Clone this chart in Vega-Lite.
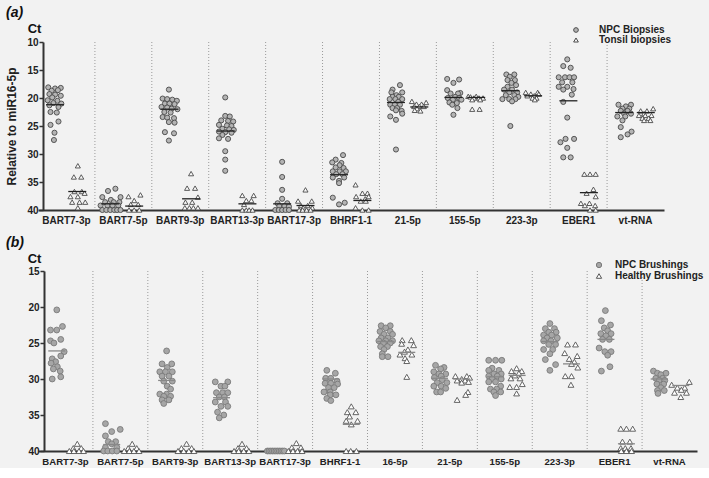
{
"$schema": "https://vega.github.io/schema/vega-lite/v6.json",
"background": "#f2f2f2",
"padding": {"left": 5, "top": 6, "right": 5, "bottom": 2},
"config": {
  "view": {"stroke": null},
  "font": "Liberation Sans",
  "concat": {"spacing": 11},
  "axis": {"labelFont": "Liberation Sans", "labelFontWeight": "bold", "labelFontSize": 10, "labelColor": "#222", "domainColor": "#333", "domainWidth": 2, "tickColor": "#333", "tickSize": 4, "tickWidth": 1.5, "grid": false, "titleFont": "Liberation Sans", "titleFontWeight": "bold", "titleFontSize": 12, "titleColor": "#222"},
  "title": {"font": "Liberation Sans", "fontSize": 14, "fontWeight": "bold", "fontStyle": "italic", "color": "#111", "anchor": "start", "frame": "group", "subtitleFont": "Liberation Sans", "subtitleFontSize": 13, "subtitleFontWeight": "bold", "subtitleFontStyle": "normal", "subtitleColor": "#111", "subtitlePadding": 0, "dx": -32},
  "legend": {"labelFont": "Liberation Sans", "labelFontSize": 10, "labelFontWeight": "bold", "labelColor": "#222", "rowPadding": 0, "symbolStrokeWidth": 1}
},
"datasets": {
"sepA": [{"c":"BART7-5p"},{"c":"BART9-3p"},{"c":"BART13-3p"},{"c":"BART17-3p"},{"c":"BHRF1-1"},{"c":"21-5p"},{"c":"155-5p"},{"c":"223-3p"},{"c":"EBER1"},{"c":"vt-RNA"}],
"sepB": [{"c":"BART7-5p"},{"c":"BART9-3p"},{"c":"BART13-3p"},{"c":"BART17-3p"},{"c":"BHRF1-1"},{"c":"16-5p"},{"c":"21-5p"},{"c":"155-5p"},{"c":"223-3p"},{"c":"EBER1"},{"c":"vt-RNA"}],
"ma": [
{"c":"BART7-3p","g":"N","v":21.2,"p":0.30},{"c":"BART7-3p","g":"T","v":36.7,"p":0.69},
{"c":"BART7-5p","g":"N","v":38.9,"p":0.27},{"c":"BART7-5p","g":"T","v":39.3,"p":0.69},
{"c":"BART9-3p","g":"N","v":22.0,"p":0.31},{"c":"BART9-3p","g":"T","v":38.0,"p":0.69},
{"c":"BART13-3p","g":"N","v":25.9,"p":0.30},{"c":"BART13-3p","g":"T","v":38.9,"p":0.68},
{"c":"BART17-3p","g":"N","v":38.9,"p":0.29},{"c":"BART17-3p","g":"T","v":39.2,"p":0.70},
{"c":"BHRF1-1","g":"N","v":33.7,"p":0.29},{"c":"BHRF1-1","g":"T","v":38.3,"p":0.70},
{"c":"21-5p","g":"N","v":20.8,"p":0.29},{"c":"21-5p","g":"T","v":21.6,"p":0.70},
{"c":"155-5p","g":"N","v":19.9,"p":0.30},{"c":"155-5p","g":"T","v":19.9,"p":0.70},
{"c":"223-3p","g":"N","v":18.7,"p":0.30},{"c":"223-3p","g":"T","v":19.6,"p":0.70},
{"c":"EBER1","g":"N","v":20.5,"p":0.32},{"c":"EBER1","g":"T","v":36.9,"p":0.68},
{"c":"vt-RNA","g":"N","v":22.6,"p":0.30},{"c":"vt-RNA","g":"T","v":22.6,"p":0.68}
],
"mb": [
{"c":"BART7-3p","g":"N","v":26.1,"p":0.33},
{"c":"BART7-5p","g":"N","v":39.1,"p":0.33},
{"c":"BART9-3p","g":"N","v":30.2,"p":0.33},
{"c":"BART13-3p","g":"N","v":32.6,"p":0.33},
{"c":"BHRF1-1","g":"N","v":30.0,"p":0.32},{"c":"BHRF1-1","g":"T","v":36.3,"p":0.68},
{"c":"16-5p","g":"N","v":24.8,"p":0.32},{"c":"16-5p","g":"T","v":26.3,"p":0.69},
{"c":"21-5p","g":"N","v":29.9,"p":0.30},{"c":"21-5p","g":"T","v":30.0,"p":0.69},
{"c":"155-5p","g":"N","v":29.7,"p":0.32},{"c":"155-5p","g":"T","v":29.5,"p":0.70},
{"c":"223-3p","g":"N","v":24.8,"p":0.31},{"c":"223-3p","g":"T","v":27.9,"p":0.69},
{"c":"EBER1","g":"N","v":24.5,"p":0.33},{"c":"EBER1","g":"T","v":39.0,"p":0.69},
{"c":"vt-RNA","g":"N","v":30.0,"p":0.30},{"c":"vt-RNA","g":"T","v":30.9,"p":0.68}
],
"a": [
{"c":"BART7-3p","g":"N","v":18.1,"p":0.18},{"c":"BART7-3p","g":"N","v":18.3,"p":0.30},{"c":"BART7-3p","g":"N","v":18.2,"p":0.40},{"c":"BART7-3p","g":"N","v":18.7,"p":0.24},{"c":"BART7-3p","g":"N","v":18.6,"p":0.35},{"c":"BART7-3p","g":"N","v":19.3,"p":0.20},{"c":"BART7-3p","g":"N","v":19.4,"p":0.30},{"c":"BART7-3p","g":"N","v":19.6,"p":0.40},{"c":"BART7-3p","g":"N","v":19.9,"p":0.25},{"c":"BART7-3p","g":"N","v":20.4,"p":0.17},{"c":"BART7-3p","g":"N","v":20.5,"p":0.34},{"c":"BART7-3p","g":"N","v":20.9,"p":0.27},{"c":"BART7-3p","g":"N","v":21.0,"p":0.41},{"c":"BART7-3p","g":"N","v":21.3,"p":0.20},{"c":"BART7-3p","g":"N","v":21.6,"p":0.36},{"c":"BART7-3p","g":"N","v":22.5,"p":0.22},{"c":"BART7-3p","g":"N","v":22.6,"p":0.33},{"c":"BART7-3p","g":"N","v":24.2,"p":0.36},{"c":"BART7-3p","g":"N","v":24.8,"p":0.22},{"c":"BART7-3p","g":"N","v":26.2,"p":0.29},{"c":"BART7-3p","g":"N","v":27.5,"p":0.28},
{"c":"BART7-3p","g":"T","v":32.1,"p":0.70},{"c":"BART7-3p","g":"T","v":34.1,"p":0.63},{"c":"BART7-3p","g":"T","v":34.1,"p":0.76},{"c":"BART7-3p","g":"T","v":36.7,"p":0.64},{"c":"BART7-3p","g":"T","v":36.7,"p":0.77},{"c":"BART7-3p","g":"T","v":37.0,"p":0.82},{"c":"BART7-3p","g":"T","v":37.6,"p":0.57},{"c":"BART7-3p","g":"T","v":37.6,"p":0.70},{"c":"BART7-3p","g":"T","v":38.6,"p":0.60},{"c":"BART7-3p","g":"T","v":38.6,"p":0.73},{"c":"BART7-3p","g":"T","v":38.6,"p":0.83},{"c":"BART7-3p","g":"T","v":39.6,"p":0.70},
{"c":"BART7-5p","g":"N","v":36.2,"p":0.36},{"c":"BART7-5p","g":"N","v":36.6,"p":0.23},{"c":"BART7-5p","g":"N","v":37.7,"p":0.13},{"c":"BART7-5p","g":"N","v":37.7,"p":0.45},{"c":"BART7-5p","g":"N","v":38.2,"p":0.28},{"c":"BART7-5p","g":"N","v":38.6,"p":0.18},{"c":"BART7-5p","g":"N","v":38.6,"p":0.33},{"c":"BART7-5p","g":"N","v":38.6,"p":0.43},{"c":"BART7-5p","g":"N","v":39.2,"p":0.10},{"c":"BART7-5p","g":"N","v":39.2,"p":0.22},{"c":"BART7-5p","g":"N","v":39.2,"p":0.31},{"c":"BART7-5p","g":"N","v":39.2,"p":0.41},{"c":"BART7-5p","g":"N","v":40,"p":0.13},{"c":"BART7-5p","g":"N","v":40,"p":0.20},{"c":"BART7-5p","g":"N","v":40,"p":0.27},{"c":"BART7-5p","g":"N","v":40,"p":0.34},{"c":"BART7-5p","g":"N","v":40,"p":0.39},{"c":"BART7-5p","g":"N","v":40,"p":0.45},
{"c":"BART7-5p","g":"T","v":37.3,"p":0.80},{"c":"BART7-5p","g":"T","v":37.6,"p":0.59},{"c":"BART7-5p","g":"T","v":38.3,"p":0.69},{"c":"BART7-5p","g":"T","v":39.0,"p":0.63},{"c":"BART7-5p","g":"T","v":39.0,"p":0.76},{"c":"BART7-5p","g":"T","v":40,"p":0.60},{"c":"BART7-5p","g":"T","v":40,"p":0.69},{"c":"BART7-5p","g":"T","v":40,"p":0.78},
{"c":"BART9-3p","g":"N","v":18.5,"p":0.30},{"c":"BART9-3p","g":"N","v":20.1,"p":0.19},{"c":"BART9-3p","g":"N","v":20.2,"p":0.27},{"c":"BART9-3p","g":"N","v":20.3,"p":0.36},{"c":"BART9-3p","g":"N","v":20.5,"p":0.44},{"c":"BART9-3p","g":"N","v":21.0,"p":0.23},{"c":"BART9-3p","g":"N","v":21.0,"p":0.31},{"c":"BART9-3p","g":"N","v":21.1,"p":0.40},{"c":"BART9-3p","g":"N","v":21.6,"p":0.17},{"c":"BART9-3p","g":"N","v":21.7,"p":0.27},{"c":"BART9-3p","g":"N","v":21.9,"p":0.35},{"c":"BART9-3p","g":"N","v":22.0,"p":0.45},{"c":"BART9-3p","g":"N","v":22.5,"p":0.22},{"c":"BART9-3p","g":"N","v":22.6,"p":0.33},{"c":"BART9-3p","g":"N","v":23.4,"p":0.19},{"c":"BART9-3p","g":"N","v":23.5,"p":0.27},{"c":"BART9-3p","g":"N","v":23.6,"p":0.39},{"c":"BART9-3p","g":"N","v":24.3,"p":0.30},{"c":"BART9-3p","g":"N","v":24.4,"p":0.40},{"c":"BART9-3p","g":"N","v":26.1,"p":0.23},{"c":"BART9-3p","g":"N","v":26.3,"p":0.39},{"c":"BART9-3p","g":"N","v":27.6,"p":0.30},
{"c":"BART9-3p","g":"T","v":33.5,"p":0.69},{"c":"BART9-3p","g":"T","v":36.1,"p":0.62},{"c":"BART9-3p","g":"T","v":36.1,"p":0.76},{"c":"BART9-3p","g":"T","v":37.7,"p":0.81},{"c":"BART9-3p","g":"T","v":38.6,"p":0.59},{"c":"BART9-3p","g":"T","v":38.6,"p":0.71},{"c":"BART9-3p","g":"T","v":39.6,"p":0.58},{"c":"BART9-3p","g":"T","v":39.6,"p":0.66},{"c":"BART9-3p","g":"T","v":39.6,"p":0.73},{"c":"BART9-3p","g":"T","v":39.6,"p":0.81},
{"c":"BART13-3p","g":"N","v":19.9,"p":0.29},{"c":"BART13-3p","g":"N","v":23.2,"p":0.29},{"c":"BART13-3p","g":"N","v":23.3,"p":0.37},{"c":"BART13-3p","g":"N","v":24.0,"p":0.22},{"c":"BART13-3p","g":"N","v":24.1,"p":0.34},{"c":"BART13-3p","g":"N","v":24.2,"p":0.43},{"c":"BART13-3p","g":"N","v":24.8,"p":0.18},{"c":"BART13-3p","g":"N","v":24.9,"p":0.32},{"c":"BART13-3p","g":"N","v":25.0,"p":0.40},{"c":"BART13-3p","g":"N","v":25.5,"p":0.24},{"c":"BART13-3p","g":"N","v":25.6,"p":0.36},{"c":"BART13-3p","g":"N","v":25.7,"p":0.44},{"c":"BART13-3p","g":"N","v":26.0,"p":0.18},{"c":"BART13-3p","g":"N","v":26.1,"p":0.29},{"c":"BART13-3p","g":"N","v":26.2,"p":0.40},{"c":"BART13-3p","g":"N","v":26.6,"p":0.24},{"c":"BART13-3p","g":"N","v":27.2,"p":0.18},{"c":"BART13-3p","g":"N","v":27.3,"p":0.34},{"c":"BART13-3p","g":"N","v":29.5,"p":0.29},{"c":"BART13-3p","g":"N","v":31.0,"p":0.29},{"c":"BART13-3p","g":"N","v":33.0,"p":0.29},
{"c":"BART13-3p","g":"T","v":37.4,"p":0.59},{"c":"BART13-3p","g":"T","v":37.4,"p":0.79},{"c":"BART13-3p","g":"T","v":38.3,"p":0.66},{"c":"BART13-3p","g":"T","v":38.3,"p":0.75},{"c":"BART13-3p","g":"T","v":39.0,"p":0.62},{"c":"BART13-3p","g":"T","v":40,"p":0.59},{"c":"BART13-3p","g":"T","v":40,"p":0.66},{"c":"BART13-3p","g":"T","v":40,"p":0.71},{"c":"BART13-3p","g":"T","v":40,"p":0.77},
{"c":"BART17-3p","g":"N","v":31.4,"p":0.29},{"c":"BART17-3p","g":"N","v":34.1,"p":0.29},{"c":"BART17-3p","g":"N","v":36.4,"p":0.29},{"c":"BART17-3p","g":"N","v":38.0,"p":0.29},{"c":"BART17-3p","g":"N","v":38.8,"p":0.21},{"c":"BART17-3p","g":"N","v":38.8,"p":0.38},{"c":"BART17-3p","g":"N","v":39.3,"p":0.24},{"c":"BART17-3p","g":"N","v":39.3,"p":0.33},{"c":"BART17-3p","g":"N","v":39.4,"p":0.41},{"c":"BART17-3p","g":"N","v":40,"p":0.17},{"c":"BART17-3p","g":"N","v":40,"p":0.23},{"c":"BART17-3p","g":"N","v":40,"p":0.29},{"c":"BART17-3p","g":"N","v":40,"p":0.35},{"c":"BART17-3p","g":"N","v":40,"p":0.41},
{"c":"BART17-3p","g":"T","v":36.4,"p":0.70},{"c":"BART17-3p","g":"T","v":38.4,"p":0.57},{"c":"BART17-3p","g":"T","v":38.4,"p":0.81},{"c":"BART17-3p","g":"T","v":39.2,"p":0.62},{"c":"BART17-3p","g":"T","v":39.2,"p":0.74},{"c":"BART17-3p","g":"T","v":39.6,"p":0.66},{"c":"BART17-3p","g":"T","v":39.6,"p":0.82},{"c":"BART17-3p","g":"T","v":40,"p":0.59},{"c":"BART17-3p","g":"T","v":40,"p":0.65},{"c":"BART17-3p","g":"T","v":40,"p":0.72},{"c":"BART17-3p","g":"T","v":40,"p":0.79},
{"c":"BHRF1-1","g":"N","v":30.2,"p":0.36},{"c":"BHRF1-1","g":"N","v":31.0,"p":0.23},{"c":"BHRF1-1","g":"N","v":31.5,"p":0.17},{"c":"BHRF1-1","g":"N","v":31.6,"p":0.33},{"c":"BHRF1-1","g":"N","v":32.0,"p":0.30},{"c":"BHRF1-1","g":"N","v":32.4,"p":0.23},{"c":"BHRF1-1","g":"N","v":32.5,"p":0.37},{"c":"BHRF1-1","g":"N","v":33.1,"p":0.18},{"c":"BHRF1-1","g":"N","v":33.1,"p":0.30},{"c":"BHRF1-1","g":"N","v":33.1,"p":0.41},{"c":"BHRF1-1","g":"N","v":33.6,"p":0.24},{"c":"BHRF1-1","g":"N","v":33.6,"p":0.35},{"c":"BHRF1-1","g":"N","v":34.2,"p":0.18},{"c":"BHRF1-1","g":"N","v":34.2,"p":0.38},{"c":"BHRF1-1","g":"N","v":34.8,"p":0.29},{"c":"BHRF1-1","g":"N","v":35.2,"p":0.29},{"c":"BHRF1-1","g":"N","v":37.8,"p":0.18},{"c":"BHRF1-1","g":"N","v":38.7,"p":0.39},{"c":"BHRF1-1","g":"N","v":39.0,"p":0.29},
{"c":"BHRF1-1","g":"T","v":35.5,"p":0.58},{"c":"BHRF1-1","g":"T","v":37.0,"p":0.70},{"c":"BHRF1-1","g":"T","v":37.0,"p":0.79},{"c":"BHRF1-1","g":"T","v":37.6,"p":0.59},{"c":"BHRF1-1","g":"T","v":37.6,"p":0.81},{"c":"BHRF1-1","g":"T","v":38.0,"p":0.75},{"c":"BHRF1-1","g":"T","v":38.4,"p":0.67},{"c":"BHRF1-1","g":"T","v":38.4,"p":0.76},{"c":"BHRF1-1","g":"T","v":39.6,"p":0.58},{"c":"BHRF1-1","g":"T","v":40,"p":0.70},{"c":"BHRF1-1","g":"T","v":40,"p":0.81},
{"c":"21-5p","g":"N","v":17.7,"p":0.36},{"c":"21-5p","g":"N","v":18.5,"p":0.23},{"c":"21-5p","g":"N","v":19.0,"p":0.21},{"c":"21-5p","g":"N","v":19.0,"p":0.40},{"c":"21-5p","g":"N","v":19.5,"p":0.30},{"c":"21-5p","g":"N","v":19.8,"p":0.23},{"c":"21-5p","g":"N","v":19.8,"p":0.34},{"c":"21-5p","g":"N","v":20.2,"p":0.18},{"c":"21-5p","g":"N","v":20.2,"p":0.28},{"c":"21-5p","g":"N","v":20.2,"p":0.40},{"c":"21-5p","g":"N","v":20.7,"p":0.33},{"c":"21-5p","g":"N","v":21.2,"p":0.19},{"c":"21-5p","g":"N","v":21.2,"p":0.27},{"c":"21-5p","g":"N","v":21.2,"p":0.36},{"c":"21-5p","g":"N","v":21.8,"p":0.23},{"c":"21-5p","g":"N","v":21.8,"p":0.31},{"c":"21-5p","g":"N","v":22.2,"p":0.29},{"c":"21-5p","g":"N","v":22.3,"p":0.39},{"c":"21-5p","g":"N","v":22.8,"p":0.40},{"c":"21-5p","g":"N","v":23.3,"p":0.19},{"c":"21-5p","g":"N","v":23.9,"p":0.29},{"c":"21-5p","g":"N","v":29.2,"p":0.29},
{"c":"21-5p","g":"T","v":20.6,"p":0.57},{"c":"21-5p","g":"T","v":20.8,"p":0.82},{"c":"21-5p","g":"T","v":21.1,"p":0.65},{"c":"21-5p","g":"T","v":21.1,"p":0.74},{"c":"21-5p","g":"T","v":21.5,"p":0.61},{"c":"21-5p","g":"T","v":21.5,"p":0.70},{"c":"21-5p","g":"T","v":21.5,"p":0.78},{"c":"21-5p","g":"T","v":21.9,"p":0.66},{"c":"21-5p","g":"T","v":22.3,"p":0.72},{"c":"21-5p","g":"T","v":22.2,"p":0.62},
{"c":"155-5p","g":"N","v":16.6,"p":0.19},{"c":"155-5p","g":"N","v":16.7,"p":0.40},{"c":"155-5p","g":"N","v":17.3,"p":0.30},{"c":"155-5p","g":"N","v":18.6,"p":0.19},{"c":"155-5p","g":"N","v":19.1,"p":0.42},{"c":"155-5p","g":"N","v":19.2,"p":0.25},{"c":"155-5p","g":"N","v":19.2,"p":0.38},{"c":"155-5p","g":"N","v":19.8,"p":0.33},{"c":"155-5p","g":"N","v":20.0,"p":0.20},{"c":"155-5p","g":"N","v":20.0,"p":0.40},{"c":"155-5p","g":"N","v":20.3,"p":0.29},{"c":"155-5p","g":"N","v":20.3,"p":0.44},{"c":"155-5p","g":"N","v":20.8,"p":0.23},{"c":"155-5p","g":"N","v":20.9,"p":0.36},{"c":"155-5p","g":"N","v":21.2,"p":0.28},{"c":"155-5p","g":"N","v":21.8,"p":0.37},{"c":"155-5p","g":"N","v":23.0,"p":0.30},
{"c":"155-5p","g":"T","v":19.7,"p":0.56},{"c":"155-5p","g":"T","v":19.7,"p":0.70},{"c":"155-5p","g":"T","v":19.8,"p":0.60},{"c":"155-5p","g":"T","v":20.0,"p":0.66},{"c":"155-5p","g":"T","v":20.0,"p":0.75},{"c":"155-5p","g":"T","v":20.0,"p":0.82},{"c":"155-5p","g":"T","v":20.3,"p":0.63},{"c":"155-5p","g":"T","v":20.3,"p":0.77},{"c":"155-5p","g":"T","v":22.0,"p":0.63},{"c":"155-5p","g":"T","v":22.0,"p":0.76},
{"c":"223-3p","g":"N","v":15.8,"p":0.23},{"c":"223-3p","g":"N","v":15.8,"p":0.37},{"c":"223-3p","g":"N","v":16.2,"p":0.29},{"c":"223-3p","g":"N","v":16.8,"p":0.25},{"c":"223-3p","g":"N","v":16.8,"p":0.38},{"c":"223-3p","g":"N","v":17.3,"p":0.32},{"c":"223-3p","g":"N","v":17.7,"p":0.40},{"c":"223-3p","g":"N","v":18.0,"p":0.25},{"c":"223-3p","g":"N","v":18.5,"p":0.19},{"c":"223-3p","g":"N","v":18.5,"p":0.33},{"c":"223-3p","g":"N","v":19.0,"p":0.28},{"c":"223-3p","g":"N","v":19.0,"p":0.42},{"c":"223-3p","g":"N","v":19.5,"p":0.22},{"c":"223-3p","g":"N","v":19.5,"p":0.37},{"c":"223-3p","g":"N","v":19.8,"p":0.44},{"c":"223-3p","g":"N","v":20.2,"p":0.16},{"c":"223-3p","g":"N","v":20.2,"p":0.28},{"c":"223-3p","g":"N","v":20.2,"p":0.39},{"c":"223-3p","g":"N","v":20.6,"p":0.33},{"c":"223-3p","g":"N","v":25.0,"p":0.30},
{"c":"223-3p","g":"T","v":19.0,"p":0.57},{"c":"223-3p","g":"T","v":19.0,"p":0.78},{"c":"223-3p","g":"T","v":19.3,"p":0.66},{"c":"223-3p","g":"T","v":19.3,"p":0.80},{"c":"223-3p","g":"T","v":19.6,"p":0.60},{"c":"223-3p","g":"T","v":19.6,"p":0.72},{"c":"223-3p","g":"T","v":20.0,"p":0.69},{"c":"223-3p","g":"T","v":20.0,"p":0.76},{"c":"223-3p","g":"T","v":20.3,"p":0.73},
{"c":"EBER1","g":"N","v":13.1,"p":0.30},{"c":"EBER1","g":"N","v":14.3,"p":0.23},{"c":"EBER1","g":"N","v":14.6,"p":0.36},{"c":"EBER1","g":"N","v":16.3,"p":0.15},{"c":"EBER1","g":"N","v":16.3,"p":0.26},{"c":"EBER1","g":"N","v":16.3,"p":0.34},{"c":"EBER1","g":"N","v":16.3,"p":0.42},{"c":"EBER1","g":"N","v":17.2,"p":0.21},{"c":"EBER1","g":"N","v":17.2,"p":0.39},{"c":"EBER1","g":"N","v":18.0,"p":0.15},{"c":"EBER1","g":"N","v":18.0,"p":0.30},{"c":"EBER1","g":"N","v":18.5,"p":0.23},{"c":"EBER1","g":"N","v":18.4,"p":0.41},{"c":"EBER1","g":"N","v":19.4,"p":0.38},{"c":"EBER1","g":"N","v":20.7,"p":0.23},{"c":"EBER1","g":"N","v":23.5,"p":0.30},{"c":"EBER1","g":"N","v":27.3,"p":0.27},{"c":"EBER1","g":"N","v":27.3,"p":0.42},{"c":"EBER1","g":"N","v":27.9,"p":0.18},{"c":"EBER1","g":"N","v":28.9,"p":0.30},{"c":"EBER1","g":"N","v":30.6,"p":0.23},{"c":"EBER1","g":"N","v":30.6,"p":0.36},
{"c":"EBER1","g":"T","v":33.6,"p":0.60},{"c":"EBER1","g":"T","v":33.6,"p":0.70},{"c":"EBER1","g":"T","v":33.6,"p":0.80},{"c":"EBER1","g":"T","v":36.3,"p":0.76},{"c":"EBER1","g":"T","v":37.0,"p":0.64},{"c":"EBER1","g":"T","v":37.6,"p":0.80},{"c":"EBER1","g":"T","v":38.8,"p":0.54},{"c":"EBER1","g":"T","v":38.8,"p":0.69},{"c":"EBER1","g":"T","v":39.2,"p":0.61},{"c":"EBER1","g":"T","v":39.2,"p":0.79},{"c":"EBER1","g":"T","v":40,"p":0.70},{"c":"EBER1","g":"T","v":40,"p":0.80},
{"c":"vt-RNA","g":"N","v":21.2,"p":0.20},{"c":"vt-RNA","g":"N","v":21.2,"p":0.42},{"c":"vt-RNA","g":"N","v":21.5,"p":0.33},{"c":"vt-RNA","g":"N","v":21.9,"p":0.27},{"c":"vt-RNA","g":"N","v":21.9,"p":0.39},{"c":"vt-RNA","g":"N","v":22.3,"p":0.24},{"c":"vt-RNA","g":"N","v":22.3,"p":0.36},{"c":"vt-RNA","g":"N","v":22.8,"p":0.30},{"c":"vt-RNA","g":"N","v":22.8,"p":0.42},{"c":"vt-RNA","g":"N","v":23.3,"p":0.18},{"c":"vt-RNA","g":"N","v":23.3,"p":0.32},{"c":"vt-RNA","g":"N","v":24.0,"p":0.27},{"c":"vt-RNA","g":"N","v":25.2,"p":0.24},{"c":"vt-RNA","g":"N","v":26.0,"p":0.43},{"c":"vt-RNA","g":"N","v":26.5,"p":0.36},{"c":"vt-RNA","g":"N","v":27.0,"p":0.24},
{"c":"vt-RNA","g":"T","v":21.9,"p":0.81},{"c":"vt-RNA","g":"T","v":22.3,"p":0.59},{"c":"vt-RNA","g":"T","v":22.3,"p":0.70},{"c":"vt-RNA","g":"T","v":22.8,"p":0.65},{"c":"vt-RNA","g":"T","v":23.1,"p":0.56},{"c":"vt-RNA","g":"T","v":23.1,"p":0.67},{"c":"vt-RNA","g":"T","v":23.1,"p":0.78},{"c":"vt-RNA","g":"T","v":23.6,"p":0.62},{"c":"vt-RNA","g":"T","v":23.6,"p":0.73},{"c":"vt-RNA","g":"T","v":24.0,"p":0.65},{"c":"vt-RNA","g":"T","v":24.0,"p":0.76}
],
"b": [
{"c":"BART7-3p","g":"N","v":20.4,"p":0.33},{"c":"BART7-3p","g":"N","v":22.7,"p":0.43},{"c":"BART7-3p","g":"N","v":23.2,"p":0.22},{"c":"BART7-3p","g":"N","v":23.2,"p":0.33},{"c":"BART7-3p","g":"N","v":24.5,"p":0.40},{"c":"BART7-3p","g":"N","v":24.7,"p":0.22},{"c":"BART7-3p","g":"N","v":25.0,"p":0.28},{"c":"BART7-3p","g":"N","v":26.2,"p":0.46},{"c":"BART7-3p","g":"N","v":26.8,"p":0.40},{"c":"BART7-3p","g":"N","v":27.2,"p":0.25},{"c":"BART7-3p","g":"N","v":27.6,"p":0.31},{"c":"BART7-3p","g":"N","v":27.8,"p":0.23},{"c":"BART7-3p","g":"N","v":28.3,"p":0.34},{"c":"BART7-3p","g":"N","v":28.6,"p":0.27},{"c":"BART7-3p","g":"N","v":28.9,"p":0.39},{"c":"BART7-3p","g":"N","v":29.7,"p":0.40},{"c":"BART7-3p","g":"N","v":30.0,"p":0.25},
{"c":"BART7-3p","g":"T","v":39.0,"p":0.69},{"c":"BART7-3p","g":"T","v":39.6,"p":0.62},{"c":"BART7-3p","g":"T","v":39.6,"p":0.76},{"c":"BART7-3p","g":"T","v":40,"p":0.55},{"c":"BART7-3p","g":"T","v":40,"p":0.63},{"c":"BART7-3p","g":"T","v":40,"p":0.72},{"c":"BART7-3p","g":"T","v":40,"p":0.80},
{"c":"BART7-5p","g":"N","v":36.2,"p":0.22},{"c":"BART7-5p","g":"N","v":37.0,"p":0.48},{"c":"BART7-5p","g":"N","v":37.3,"p":0.33},{"c":"BART7-5p","g":"N","v":37.9,"p":0.22},{"c":"BART7-5p","g":"N","v":38.7,"p":0.27},{"c":"BART7-5p","g":"N","v":38.7,"p":0.40},{"c":"BART7-5p","g":"N","v":39.0,"p":0.33},{"c":"BART7-5p","g":"N","v":39.5,"p":0.22},{"c":"BART7-5p","g":"N","v":39.5,"p":0.42},{"c":"BART7-5p","g":"N","v":40,"p":0.19},{"c":"BART7-5p","g":"N","v":40,"p":0.26},{"c":"BART7-5p","g":"N","v":40,"p":0.34},{"c":"BART7-5p","g":"N","v":40,"p":0.42},
{"c":"BART7-5p","g":"T","v":39.0,"p":0.69},{"c":"BART7-5p","g":"T","v":39.6,"p":0.62},{"c":"BART7-5p","g":"T","v":39.6,"p":0.77},{"c":"BART7-5p","g":"T","v":40,"p":0.55},{"c":"BART7-5p","g":"T","v":40,"p":0.64},{"c":"BART7-5p","g":"T","v":40,"p":0.72},{"c":"BART7-5p","g":"T","v":40,"p":0.81},
{"c":"BART9-3p","g":"N","v":26.1,"p":0.33},{"c":"BART9-3p","g":"N","v":27.9,"p":0.25},{"c":"BART9-3p","g":"N","v":27.9,"p":0.42},{"c":"BART9-3p","g":"N","v":28.4,"p":0.34},{"c":"BART9-3p","g":"N","v":29.0,"p":0.21},{"c":"BART9-3p","g":"N","v":29.0,"p":0.31},{"c":"BART9-3p","g":"N","v":29.0,"p":0.43},{"c":"BART9-3p","g":"N","v":29.6,"p":0.25},{"c":"BART9-3p","g":"N","v":29.6,"p":0.37},{"c":"BART9-3p","g":"N","v":30.3,"p":0.28},{"c":"BART9-3p","g":"N","v":30.3,"p":0.43},{"c":"BART9-3p","g":"N","v":31.0,"p":0.34},{"c":"BART9-3p","g":"N","v":31.4,"p":0.40},{"c":"BART9-3p","g":"N","v":32.1,"p":0.21},{"c":"BART9-3p","g":"N","v":32.1,"p":0.33},{"c":"BART9-3p","g":"N","v":32.4,"p":0.28},{"c":"BART9-3p","g":"N","v":32.4,"p":0.40},{"c":"BART9-3p","g":"N","v":32.9,"p":0.25},{"c":"BART9-3p","g":"N","v":32.9,"p":0.37},{"c":"BART9-3p","g":"N","v":33.4,"p":0.28},
{"c":"BART9-3p","g":"T","v":39.0,"p":0.68},{"c":"BART9-3p","g":"T","v":39.6,"p":0.59},{"c":"BART9-3p","g":"T","v":39.6,"p":0.77},{"c":"BART9-3p","g":"T","v":40,"p":0.53},{"c":"BART9-3p","g":"T","v":40,"p":0.63},{"c":"BART9-3p","g":"T","v":40,"p":0.72},{"c":"BART9-3p","g":"T","v":40,"p":0.81},
{"c":"BART13-3p","g":"N","v":30.4,"p":0.22},{"c":"BART13-3p","g":"N","v":30.4,"p":0.44},{"c":"BART13-3p","g":"N","v":31.0,"p":0.32},{"c":"BART13-3p","g":"N","v":31.0,"p":0.39},{"c":"BART13-3p","g":"N","v":31.9,"p":0.24},{"c":"BART13-3p","g":"N","v":31.9,"p":0.35},{"c":"BART13-3p","g":"N","v":31.9,"p":0.44},{"c":"BART13-3p","g":"N","v":32.5,"p":0.29},{"c":"BART13-3p","g":"N","v":32.5,"p":0.38},{"c":"BART13-3p","g":"N","v":33.2,"p":0.22},{"c":"BART13-3p","g":"N","v":33.2,"p":0.40},{"c":"BART13-3p","g":"N","v":33.8,"p":0.32},{"c":"BART13-3p","g":"N","v":33.8,"p":0.44},{"c":"BART13-3p","g":"N","v":34.6,"p":0.26},{"c":"BART13-3p","g":"N","v":35.0,"p":0.37},{"c":"BART13-3p","g":"N","v":35.4,"p":0.29},
{"c":"BART13-3p","g":"T","v":39.0,"p":0.69},{"c":"BART13-3p","g":"T","v":39.6,"p":0.62},{"c":"BART13-3p","g":"T","v":39.6,"p":0.77},{"c":"BART13-3p","g":"T","v":40,"p":0.55},{"c":"BART13-3p","g":"T","v":40,"p":0.63},{"c":"BART13-3p","g":"T","v":40,"p":0.72},{"c":"BART13-3p","g":"T","v":40,"p":0.81},
{"c":"BART17-3p","g":"N","v":40,"p":0.17},{"c":"BART17-3p","g":"N","v":40,"p":0.20},{"c":"BART17-3p","g":"N","v":40,"p":0.23},{"c":"BART17-3p","g":"N","v":40,"p":0.26},{"c":"BART17-3p","g":"N","v":40,"p":0.29},{"c":"BART17-3p","g":"N","v":40,"p":0.32},{"c":"BART17-3p","g":"N","v":40,"p":0.35},{"c":"BART17-3p","g":"N","v":40,"p":0.38},{"c":"BART17-3p","g":"N","v":40,"p":0.41},{"c":"BART17-3p","g":"N","v":40,"p":0.44},{"c":"BART17-3p","g":"N","v":40,"p":0.47},
{"c":"BART17-3p","g":"T","v":38.9,"p":0.68},{"c":"BART17-3p","g":"T","v":39.5,"p":0.60},{"c":"BART17-3p","g":"T","v":39.5,"p":0.76},{"c":"BART17-3p","g":"T","v":40,"p":0.54},{"c":"BART17-3p","g":"T","v":40,"p":0.62},{"c":"BART17-3p","g":"T","v":40,"p":0.70},{"c":"BART17-3p","g":"T","v":40,"p":0.78},
{"c":"BHRF1-1","g":"N","v":28.8,"p":0.25},{"c":"BHRF1-1","g":"N","v":29.2,"p":0.40},{"c":"BHRF1-1","g":"N","v":29.9,"p":0.23},{"c":"BHRF1-1","g":"N","v":29.9,"p":0.32},{"c":"BHRF1-1","g":"N","v":30.3,"p":0.43},{"c":"BHRF1-1","g":"N","v":30.6,"p":0.22},{"c":"BHRF1-1","g":"N","v":30.6,"p":0.32},{"c":"BHRF1-1","g":"N","v":30.7,"p":0.44},{"c":"BHRF1-1","g":"N","v":31.2,"p":0.28},{"c":"BHRF1-1","g":"N","v":31.2,"p":0.38},{"c":"BHRF1-1","g":"N","v":31.8,"p":0.20},{"c":"BHRF1-1","g":"N","v":31.8,"p":0.31},{"c":"BHRF1-1","g":"N","v":32.2,"p":0.31},{"c":"BHRF1-1","g":"N","v":32.2,"p":0.41},{"c":"BHRF1-1","g":"N","v":32.7,"p":0.25},{"c":"BHRF1-1","g":"N","v":33.0,"p":0.32},
{"c":"BHRF1-1","g":"T","v":33.8,"p":0.68},{"c":"BHRF1-1","g":"T","v":34.6,"p":0.61},{"c":"BHRF1-1","g":"T","v":34.6,"p":0.76},{"c":"BHRF1-1","g":"T","v":35.2,"p":0.65},{"c":"BHRF1-1","g":"T","v":35.8,"p":0.59},{"c":"BHRF1-1","g":"T","v":35.8,"p":0.79},{"c":"BHRF1-1","g":"T","v":36.3,"p":0.68},{"c":"BHRF1-1","g":"T","v":40,"p":0.59},{"c":"BHRF1-1","g":"T","v":40,"p":0.67},{"c":"BHRF1-1","g":"T","v":40,"p":0.77},
{"c":"16-5p","g":"N","v":22.6,"p":0.24},{"c":"16-5p","g":"N","v":22.6,"p":0.40},{"c":"16-5p","g":"N","v":22.9,"p":0.32},{"c":"16-5p","g":"N","v":23.4,"p":0.22},{"c":"16-5p","g":"N","v":23.4,"p":0.40},{"c":"16-5p","g":"N","v":23.8,"p":0.29},{"c":"16-5p","g":"N","v":23.8,"p":0.44},{"c":"16-5p","g":"N","v":24.3,"p":0.24},{"c":"16-5p","g":"N","v":24.3,"p":0.36},{"c":"16-5p","g":"N","v":24.7,"p":0.20},{"c":"16-5p","g":"N","v":24.7,"p":0.32},{"c":"16-5p","g":"N","v":24.7,"p":0.44},{"c":"16-5p","g":"N","v":25.0,"p":0.28},{"c":"16-5p","g":"N","v":25.0,"p":0.40},{"c":"16-5p","g":"N","v":25.5,"p":0.23},{"c":"16-5p","g":"N","v":25.5,"p":0.35},{"c":"16-5p","g":"N","v":25.9,"p":0.29},{"c":"16-5p","g":"N","v":26.5,"p":0.26},{"c":"16-5p","g":"N","v":26.9,"p":0.26},{"c":"16-5p","g":"N","v":26.9,"p":0.36},
{"c":"16-5p","g":"T","v":24.6,"p":0.61},{"c":"16-5p","g":"T","v":24.6,"p":0.77},{"c":"16-5p","g":"T","v":25.1,"p":0.60},{"c":"16-5p","g":"T","v":25.3,"p":0.81},{"c":"16-5p","g":"T","v":25.9,"p":0.71},{"c":"16-5p","g":"T","v":26.2,"p":0.65},{"c":"16-5p","g":"T","v":26.6,"p":0.57},{"c":"16-5p","g":"T","v":26.6,"p":0.78},{"c":"16-5p","g":"T","v":27.1,"p":0.66},{"c":"16-5p","g":"T","v":27.5,"p":0.69},{"c":"16-5p","g":"T","v":29.7,"p":0.69},
{"c":"21-5p","g":"N","v":28.1,"p":0.23},{"c":"21-5p","g":"N","v":28.4,"p":0.38},{"c":"21-5p","g":"N","v":28.6,"p":0.32},{"c":"21-5p","g":"N","v":29.0,"p":0.20},{"c":"21-5p","g":"N","v":29.3,"p":0.29},{"c":"21-5p","g":"N","v":29.3,"p":0.41},{"c":"21-5p","g":"N","v":29.6,"p":0.33},{"c":"21-5p","g":"N","v":29.8,"p":0.21},{"c":"21-5p","g":"N","v":30.1,"p":0.35},{"c":"21-5p","g":"N","v":30.5,"p":0.26},{"c":"21-5p","g":"N","v":30.5,"p":0.43},{"c":"21-5p","g":"N","v":31.0,"p":0.20},{"c":"21-5p","g":"N","v":31.0,"p":0.33},{"c":"21-5p","g":"N","v":31.3,"p":0.41},{"c":"21-5p","g":"N","v":31.8,"p":0.25},{"c":"21-5p","g":"N","v":31.8,"p":0.32},
{"c":"21-5p","g":"T","v":29.6,"p":0.58},{"c":"21-5p","g":"T","v":29.6,"p":0.78},{"c":"21-5p","g":"T","v":30.0,"p":0.69},{"c":"21-5p","g":"T","v":30.2,"p":0.61},{"c":"21-5p","g":"T","v":30.2,"p":0.75},{"c":"21-5p","g":"T","v":30.5,"p":0.69},{"c":"21-5p","g":"T","v":29.8,"p":0.83},{"c":"21-5p","g":"T","v":30.4,"p":0.81},{"c":"21-5p","g":"T","v":31.8,"p":0.80},{"c":"21-5p","g":"T","v":32.2,"p":0.76},{"c":"21-5p","g":"T","v":32.9,"p":0.61},
{"c":"155-5p","g":"N","v":27.4,"p":0.20},{"c":"155-5p","g":"N","v":27.4,"p":0.32},{"c":"155-5p","g":"N","v":27.4,"p":0.43},{"c":"155-5p","g":"N","v":28.5,"p":0.26},{"c":"155-5p","g":"N","v":28.8,"p":0.20},{"c":"155-5p","g":"N","v":28.8,"p":0.38},{"c":"155-5p","g":"N","v":29.3,"p":0.29},{"c":"155-5p","g":"N","v":29.3,"p":0.42},{"c":"155-5p","g":"N","v":29.6,"p":0.20},{"c":"155-5p","g":"N","v":29.6,"p":0.35},{"c":"155-5p","g":"N","v":30.0,"p":0.26},{"c":"155-5p","g":"N","v":30.0,"p":0.42},{"c":"155-5p","g":"N","v":30.4,"p":0.20},{"c":"155-5p","g":"N","v":30.4,"p":0.32},{"c":"155-5p","g":"N","v":31.0,"p":0.41},{"c":"155-5p","g":"N","v":31.4,"p":0.23},{"c":"155-5p","g":"N","v":31.4,"p":0.34},{"c":"155-5p","g":"N","v":31.8,"p":0.29},{"c":"155-5p","g":"N","v":31.8,"p":0.41},{"c":"155-5p","g":"N","v":32.3,"p":0.32},
{"c":"155-5p","g":"T","v":28.5,"p":0.69},{"c":"155-5p","g":"T","v":28.9,"p":0.60},{"c":"155-5p","g":"T","v":28.9,"p":0.78},{"c":"155-5p","g":"T","v":29.2,"p":0.73},{"c":"155-5p","g":"T","v":29.5,"p":0.66},{"c":"155-5p","g":"T","v":29.9,"p":0.59},{"c":"155-5p","g":"T","v":29.9,"p":0.75},{"c":"155-5p","g":"T","v":30.7,"p":0.79},{"c":"155-5p","g":"T","v":31.1,"p":0.57},{"c":"155-5p","g":"T","v":31.1,"p":0.69},{"c":"155-5p","g":"T","v":32.0,"p":0.69},
{"c":"223-3p","g":"N","v":22.3,"p":0.31},{"c":"223-3p","g":"N","v":23.0,"p":0.23},{"c":"223-3p","g":"N","v":23.0,"p":0.39},{"c":"223-3p","g":"N","v":23.5,"p":0.29},{"c":"223-3p","g":"N","v":23.5,"p":0.42},{"c":"223-3p","g":"N","v":23.9,"p":0.20},{"c":"223-3p","g":"N","v":23.9,"p":0.34},{"c":"223-3p","g":"N","v":24.3,"p":0.26},{"c":"223-3p","g":"N","v":24.3,"p":0.44},{"c":"223-3p","g":"N","v":24.7,"p":0.20},{"c":"223-3p","g":"N","v":24.7,"p":0.33},{"c":"223-3p","g":"N","v":25.2,"p":0.29},{"c":"223-3p","g":"N","v":25.2,"p":0.41},{"c":"223-3p","g":"N","v":25.9,"p":0.20},{"c":"223-3p","g":"N","v":25.9,"p":0.36},{"c":"223-3p","g":"N","v":26.5,"p":0.31},{"c":"223-3p","g":"N","v":27.3,"p":0.23},{"c":"223-3p","g":"N","v":28.0,"p":0.41},{"c":"223-3p","g":"N","v":28.8,"p":0.31},
{"c":"223-3p","g":"T","v":25.2,"p":0.62},{"c":"223-3p","g":"T","v":25.2,"p":0.76},{"c":"223-3p","g":"T","v":26.4,"p":0.57},{"c":"223-3p","g":"T","v":26.8,"p":0.79},{"c":"223-3p","g":"T","v":27.2,"p":0.65},{"c":"223-3p","g":"T","v":27.6,"p":0.74},{"c":"223-3p","g":"T","v":27.9,"p":0.69},{"c":"223-3p","g":"T","v":28.4,"p":0.80},{"c":"223-3p","g":"T","v":29.6,"p":0.58},{"c":"223-3p","g":"T","v":29.6,"p":0.69},{"c":"223-3p","g":"T","v":30.8,"p":0.68},
{"c":"EBER1","g":"N","v":20.5,"p":0.32},{"c":"EBER1","g":"N","v":21.9,"p":0.25},{"c":"EBER1","g":"N","v":22.5,"p":0.41},{"c":"EBER1","g":"N","v":22.9,"p":0.30},{"c":"EBER1","g":"N","v":23.3,"p":0.36},{"c":"EBER1","g":"N","v":23.7,"p":0.24},{"c":"EBER1","g":"N","v":23.7,"p":0.42},{"c":"EBER1","g":"N","v":24.0,"p":0.33},{"c":"EBER1","g":"N","v":24.5,"p":0.27},{"c":"EBER1","g":"N","v":24.5,"p":0.39},{"c":"EBER1","g":"N","v":25.7,"p":0.21},{"c":"EBER1","g":"N","v":26.2,"p":0.31},{"c":"EBER1","g":"N","v":26.2,"p":0.42},{"c":"EBER1","g":"N","v":26.7,"p":0.36},{"c":"EBER1","g":"N","v":28.3,"p":0.40},{"c":"EBER1","g":"N","v":28.9,"p":0.25},
{"c":"EBER1","g":"T","v":36.9,"p":0.59},{"c":"EBER1","g":"T","v":36.9,"p":0.69},{"c":"EBER1","g":"T","v":36.9,"p":0.80},{"c":"EBER1","g":"T","v":38.7,"p":0.62},{"c":"EBER1","g":"T","v":38.7,"p":0.75},{"c":"EBER1","g":"T","v":39.6,"p":0.59},{"c":"EBER1","g":"T","v":39.6,"p":0.67},{"c":"EBER1","g":"T","v":39.6,"p":0.77},{"c":"EBER1","g":"T","v":40,"p":0.60},{"c":"EBER1","g":"T","v":40,"p":0.69},{"c":"EBER1","g":"T","v":40,"p":0.78},
{"c":"vt-RNA","g":"N","v":28.9,"p":0.20},{"c":"vt-RNA","g":"N","v":29.2,"p":0.27},{"c":"vt-RNA","g":"N","v":29.2,"p":0.42},{"c":"vt-RNA","g":"N","v":29.4,"p":0.33},{"c":"vt-RNA","g":"N","v":29.9,"p":0.24},{"c":"vt-RNA","g":"N","v":29.9,"p":0.36},{"c":"vt-RNA","g":"N","v":30.2,"p":0.30},{"c":"vt-RNA","g":"N","v":30.2,"p":0.40},{"c":"vt-RNA","g":"N","v":30.7,"p":0.26},{"c":"vt-RNA","g":"N","v":30.7,"p":0.38},{"c":"vt-RNA","g":"N","v":31.2,"p":0.33},{"c":"vt-RNA","g":"N","v":31.6,"p":0.27},{"c":"vt-RNA","g":"N","v":31.6,"p":0.39},{"c":"vt-RNA","g":"N","v":32.0,"p":0.28},
{"c":"vt-RNA","g":"T","v":30.4,"p":0.83},{"c":"vt-RNA","g":"T","v":30.8,"p":0.52},{"c":"vt-RNA","g":"T","v":31.2,"p":0.62},{"c":"vt-RNA","g":"T","v":31.2,"p":0.75},{"c":"vt-RNA","g":"T","v":31.5,"p":0.69},{"c":"vt-RNA","g":"T","v":31.9,"p":0.57},{"c":"vt-RNA","g":"T","v":31.9,"p":0.78},{"c":"vt-RNA","g":"T","v":32.5,"p":0.68}
]
},
"vconcat": [
{
  "title": {"text": "(a)", "subtitle": "\u200b\u00a0\u00a0\u00a0\u00a0\u00a0\u00a0Ct", "offset": -11},
  "width": 626, "height": 168,
  "encoding": {
    "x": {"field": "c", "type": "nominal", "sort": null, "scale": {"domain": ["BART7-3p","BART7-5p","BART9-3p","BART13-3p","BART17-3p","BHRF1-1","21-5p","155-5p","223-3p","EBER1","vt-RNA"], "paddingInner": 0, "paddingOuter": 0}, "axis": {"title": null, "ticks": false, "labelAngle": 0, "labelPadding": 5, "domainColor": "#333"}},
    "y": {"field": "v", "type": "quantitative", "scale": {"domain": [10, 40], "reverse": true, "nice": false, "zero": false}, "axis": {"title": "Relative to miR16-5p", "values": [10,15,20,25,30,35,40], "offset": -5, "labelPadding": 1, "titlePadding": 8}}
  },
  "layer": [
    {"data": {"name": "sepA"}, "mark": {"type": "rule", "strokeDash": [1, 2], "color": "#9a9a9a", "strokeWidth": 1}, "encoding": {"x": {"field": "c", "type": "nominal", "bandPosition": 0}, "y": null}},
    {"data": {"name": "a"}, "mark": {"type": "point", "filled": true, "size": 26, "strokeWidth": 0.9, "opacity": 1},
     "encoding": {
       "xOffset": {"field": "p", "type": "quantitative", "scale": {"domain": [0, 1], "nice": false, "zero": false}},
       "shape": {"field": "g", "type": "nominal", "scale": {"domain": ["N","T"], "range": ["circle","triangle-up"]}, "legend": {"title": null, "orient": "none", "legendX": 533, "legendY": -17, "labelOffset": 18, "labelExpr": "datum.label == 'N' ? 'NPC Biopsies' : 'Tonsil biopsies'", "symbolSize": 22}},
       "fill": {"field": "g", "type": "nominal", "scale": {"domain": ["N","T"], "range": ["#b4b4b4","#fafafa"]}, "legend": {"title": null, "orient": "none", "legendX": 533, "legendY": -17, "labelOffset": 18, "labelExpr": "datum.label == 'N' ? 'NPC Biopsies' : 'Tonsil biopsies'", "symbolSize": 22}},
       "stroke": {"field": "g", "type": "nominal", "scale": {"domain": ["N","T"], "range": ["#4a4a4a","#4a4a4a"]}, "legend": {"title": null, "orient": "none", "legendX": 533, "legendY": -17, "labelOffset": 18, "labelExpr": "datum.label == 'N' ? 'NPC Biopsies' : 'Tonsil biopsies'", "symbolSize": 22}}
     }},
    {"data": {"name": "ma"}, "mark": {"type": "point", "shape": "M-1,0H1", "size": 324, "filled": false, "stroke": "#222", "strokeWidth": 1.3, "opacity": 1},
     "encoding": {"xOffset": {"field": "p", "type": "quantitative", "scale": {"domain": [0, 1], "nice": false, "zero": false}}}}
  ]
},
{
  "title": {"text": "(b)", "subtitle": "\u200b\u00a0\u00a0\u00a0\u00a0\u00a0\u00a0Ct", "offset": -6},
  "width": 659, "height": 180,
  "encoding": {
    "x": {"field": "c", "type": "nominal", "sort": null, "scale": {"domain": ["BART7-3p","BART7-5p","BART9-3p","BART13-3p","BART17-3p","BHRF1-1","16-5p","21-5p","155-5p","223-3p","EBER1","vt-RNA"], "paddingInner": 0, "paddingOuter": 0}, "axis": {"title": null, "ticks": false, "labelAngle": 0, "labelPadding": 5, "labelFontSize": 9.6}},
    "y": {"field": "v", "type": "quantitative", "scale": {"domain": [15, 40], "reverse": true, "nice": false, "zero": false}, "axis": {"title": null, "values": [15,20,25,30,35,40], "offset": -6, "labelPadding": 1}}
  },
  "layer": [
    {"data": {"name": "sepB"}, "mark": {"type": "rule", "strokeDash": [1, 2], "color": "#9a9a9a", "strokeWidth": 1}, "encoding": {"x": {"field": "c", "type": "nominal", "bandPosition": 0}, "y": null}},
    {"data": {"name": "b"}, "mark": {"type": "point", "filled": true, "size": 34, "strokeWidth": 0.9, "opacity": 1},
     "encoding": {
       "xOffset": {"field": "p", "type": "quantitative", "scale": {"domain": [0, 1], "nice": false, "zero": false}},
       "shape": {"field": "g", "type": "nominal", "scale": {"domain": ["N","T"], "range": ["circle","triangle-up"]}, "legend": {"title": null, "orient": "none", "legendX": 556, "legendY": -11, "labelOffset": 11, "labelExpr": "datum.label == 'N' ? 'NPC Brushings' : 'Healthy Brushings'", "symbolSize": 28, "rowPadding": 1}},
       "fill": {"field": "g", "type": "nominal", "scale": {"domain": ["N","T"], "range": ["#a6a6a6","#ffffff"]}, "legend": {"title": null, "orient": "none", "legendX": 556, "legendY": -11, "labelOffset": 11, "labelExpr": "datum.label == 'N' ? 'NPC Brushings' : 'Healthy Brushings'", "symbolSize": 28, "rowPadding": 1}},
       "stroke": {"field": "g", "type": "nominal", "scale": {"domain": ["N","T"], "range": ["#7a7a7a","#555555"]}, "legend": {"title": null, "orient": "none", "legendX": 556, "legendY": -11, "labelOffset": 11, "labelExpr": "datum.label == 'N' ? 'NPC Brushings' : 'Healthy Brushings'", "symbolSize": 28, "rowPadding": 1}}
     }},
    {"data": {"name": "mb"}, "mark": {"type": "point", "shape": "M-1,0H1", "size": 289, "filled": false, "stroke": "#888", "strokeWidth": 1.3, "opacity": 1},
     "encoding": {"xOffset": {"field": "p", "type": "quantitative", "scale": {"domain": [0, 1], "nice": false, "zero": false}}}}
  ]
}
],
"resolve": {"scale": {"x": "independent", "y": "independent", "shape": "independent", "fill": "independent", "stroke": "independent"}, "legend": {"shape": "independent", "fill": "independent", "stroke": "independent"}}
}
